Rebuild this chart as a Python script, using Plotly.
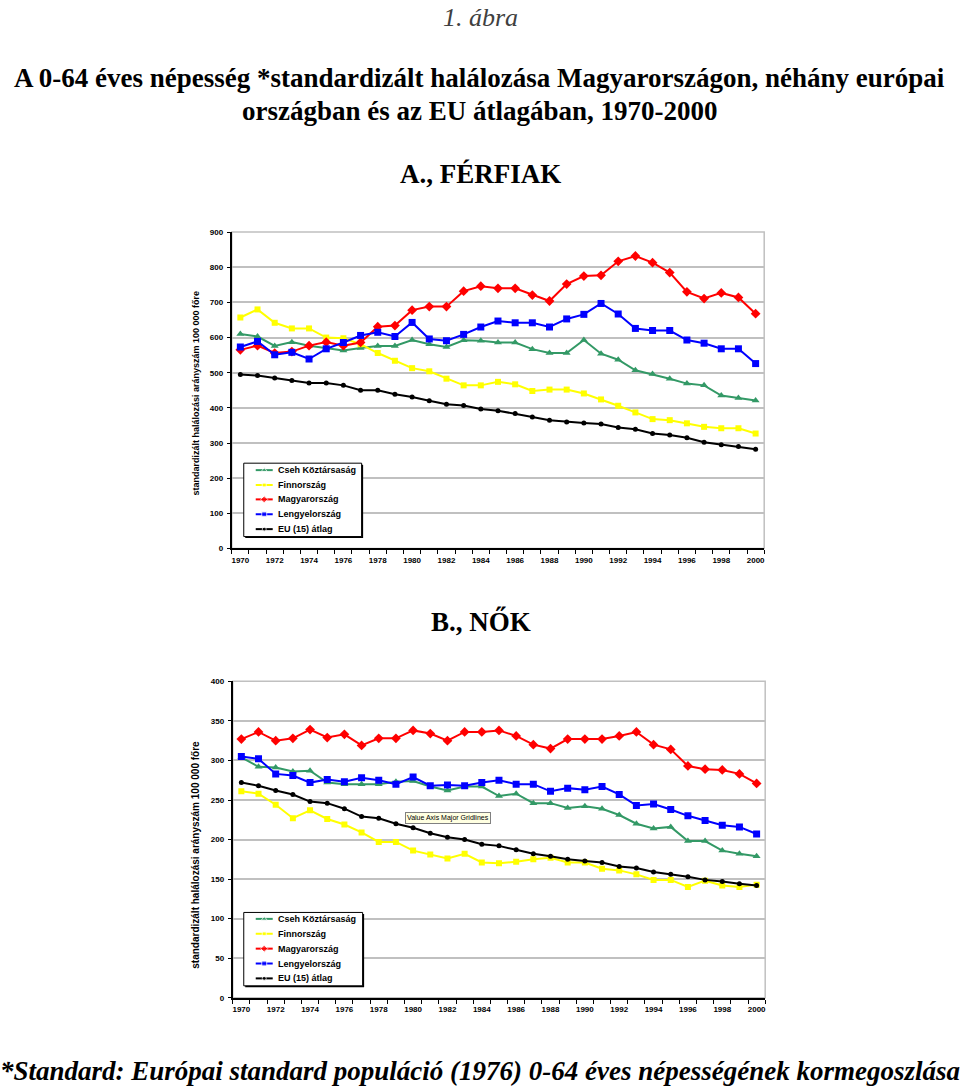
import plotly.graph_objects as go

W, H = 960, 1090

years = list(range(1970, 2001))
names = ["Cseh Köztársaság", "Finnország", "Magyarország", "Lengyelország", "EU (15) átlag"]

# A., FÉRFIAK
men_cz = [610, 603, 576, 587, 577, 570, 563, 570, 576, 576, 593, 581, 573, 592, 591,
          586, 586, 567, 556, 556, 593, 554, 537, 507, 496, 483, 469, 464, 435, 428, 421]
men_fi = [657, 680, 642, 626, 626, 600, 598, 581, 556, 534, 513, 504, 483, 464, 464,
          474, 467, 448, 452, 452, 441, 424, 406, 387, 368, 365, 356, 346, 342, 342, 327]
men_hu = [565, 577, 556, 560, 577, 587, 577, 586, 631, 634, 678, 688, 688, 732, 746,
          740, 740, 721, 704, 752, 775, 777, 817, 832, 813, 785, 730, 711, 727, 714, 668]
men_pl = [573, 589, 551, 558, 539, 568, 586, 606, 615, 603, 643, 596, 591, 609, 630,
          647, 642, 642, 630, 653, 666, 697, 667, 626, 620, 620, 593, 584, 568, 568, 526]
men_eu = [495, 492, 485, 478, 471, 471, 464, 450, 450, 439, 431, 420, 410, 407, 397,
          392, 384, 374, 365, 360, 357, 354, 344, 339, 327, 323, 315, 302, 295, 290, 282]

# B., NŐK
women_cz = [304, 292, 291, 286, 287, 272, 270, 270, 270, 273, 274, 267, 262, 267, 267,
            255, 258, 246, 246, 240, 242, 239, 231, 220, 214, 216, 198, 198, 186, 182, 179]
women_fi = [261, 258, 244, 227, 237, 226, 219, 209, 197, 197, 186, 181, 176, 182, 171,
            170, 172, 175, 177, 171, 171, 163, 161, 156, 149, 149, 140, 148, 142, 140, 143]
women_hu = [327, 336, 325, 328, 339, 329, 333, 319, 328, 328, 338, 334, 325, 336, 336,
            338, 331, 320, 315, 327, 327, 327, 331, 336, 320, 314, 293, 289, 288, 283, 271]
women_pl = [305, 302, 283, 281, 272, 276, 273, 278, 275, 270, 279, 268, 269, 268, 272,
            275, 270, 270, 261, 265, 263, 267, 257, 243, 245, 238, 230, 224, 218, 216, 207]
women_eu = [272, 268, 262, 257, 248, 246, 239, 229, 227, 220, 215, 208, 203, 200, 194,
            192, 187, 182, 179, 175, 173, 171, 166, 164, 159, 156, 153, 149, 147, 144, 142]

x_ticklabels = [str(y) for y in range(1970, 2001, 2)]
men_yticks = list(range(0, 901, 100))
women_yticks = list(range(0, 401, 50))

colors = ["#339966", "#FFFF00", "#FF0000", "#0000FF", "#000000"]
symbols = ["triangle-up", "square", "diamond", "square", "circle"]
msizes = [7, 6, 7.5, 7, 5]

ARIAL = "Liberation Sans"
SERIF = "Liberation Serif"

fig = go.Figure()

men = [men_cz, men_fi, men_hu, men_pl, men_eu]
women = [women_cz, women_fi, women_hu, women_pl, women_eu]

for i in range(5):
    fig.add_trace(go.Scatter(x=years, y=men[i], name=names[i], mode="lines+markers",
                             line=dict(color=colors[i], width=2),
                             marker=dict(symbol=symbols[i], size=msizes[i], color=colors[i]),
                             xaxis="x", yaxis="y", showlegend=False))
for i in range(5):
    fig.add_trace(go.Scatter(x=years, y=women[i], name=names[i], mode="lines+markers",
                             line=dict(color=colors[i], width=2),
                             marker=dict(symbol=symbols[i], size=msizes[i], color=colors[i]),
                             xaxis="x2", yaxis="y2", showlegend=False))

def px_x(p):
    return p / W

def px_y(p):
    return 1 - p / H

# plot areas (pixels)
top_box = (232, 765, 230, 549)
bot_box = (233, 766, 683, 1002)

tickfont = dict(family=ARIAL, size=8, color="#000", weight="bold")

def xaxis_cfg(box, anchor):
    return dict(domain=[px_x(box[0]), px_x(box[1])], anchor=anchor,
                range=[1969.5, 2000.5], tickmode="array",
                tickvals=list(range(1970, 2001, 2)), ticktext=x_ticklabels,
                ticks="", showgrid=False, zeroline=False,
                showline=True, linecolor="#000", linewidth=2,
                tickfont=tickfont, ticklabelstandoff=3,
                minor=dict(ticks="outside", tick0=1969.5, dtick=1, ticklen=4,
                           tickcolor="#000", tickwidth=1, showgrid=False))

def yaxis_cfg(box, anchor, rng, vals):
    return dict(domain=[px_y(box[3]), px_y(box[2])], anchor=anchor,
                range=rng, tickmode="array", tickvals=vals,
                ticks="outside", ticklen=3, tickcolor="#000", tickwidth=1,
                showgrid=True, gridcolor="#c0c0c0", gridwidth=1.5, zeroline=False,
                showline=True, linecolor="#000", linewidth=2,
                tickfont=tickfont, ticklabelstandoff=2)

shapes = []
for ax in ["", "2"]:
    shapes.append(dict(type="rect", xref=f"x{ax} domain", yref=f"y{ax} domain",
                       x0=0, x1=1, y0=0, y1=1, line=dict(color="#c0c0c0", width=1.5),
                       layer="below"))

# legends drawn in pixel coordinates on an overlay axis
legend_boxes = [
    dict(x0=244, x1=362, y0=463, y1=537, rows=[470, 485, 499.5, 514.5, 529.5]),
    dict(x0=244, x1=363, y0=916, y1=990, rows=[922.5, 937.5, 952.5, 967.5, 982.5]),
]
annotations = []
for lb in legend_boxes:
    shapes.append(dict(type="rect", xref="x3", yref="y3", x0=lb["x0"] + 1.5, x1=lb["x1"] + 1.5,
                       y0=lb["y0"] + 1.5, y1=lb["y1"] + 1.5, line=dict(width=0),
                       fillcolor="#000", layer="below"))
    shapes.append(dict(type="rect", xref="x3", yref="y3", x0=lb["x0"], x1=lb["x1"],
                       y0=lb["y0"], y1=lb["y1"], line=dict(color="#000", width=1),
                       fillcolor="#fff", layer="below"))
    for i, ry in enumerate(lb["rows"]):
        fig.add_trace(go.Scatter(x=[256, 264.5, 273], y=[ry, ry, ry], mode="lines+markers",
                                 line=dict(color=colors[i], width=2),
                                 marker=dict(symbol=symbols[i], color=colors[i],
                                             size=[0, max(msizes[i] - 2, 4), 0]),
                                 xaxis="x3", yaxis="y3", showlegend=False, hoverinfo="skip"))
        annotations.append(dict(x=276, y=ry, xref="x3", yref="y3", text=names[i],
                                showarrow=False, xanchor="left", yanchor="middle",
                                font=dict(family=ARIAL, size=9, color="#000", weight="bold")))

# y-axis titles
ytitle = "standardizált halálozási arányszám 100 000 főre"
annotations.append(dict(x=196, y=392, xref="x3", yref="y3", text=ytitle, textangle=-90,
                        showarrow=False, xanchor="center", yanchor="middle",
                        font=dict(family=ARIAL, size=9, color="#000", weight="bold")))
annotations.append(dict(x=196, y=858, xref="x3", yref="y3", text=ytitle, textangle=-90,
                        showarrow=False, xanchor="center", yanchor="middle",
                        font=dict(family=ARIAL, size=10, color="#000", weight="bold")))

# tooltip artifact
annotations.append(dict(x=448, y=821, xref="x3", yref="y3", text="Value Axis Major Gridlines",
                        showarrow=False, xanchor="center", yanchor="middle",
                        bgcolor="#ffffe1", bordercolor="#808080", borderwidth=1, borderpad=1,
                        font=dict(family=ARIAL, size=7, color="#000")))

# page texts
annotations.append(dict(x=481, y=14, xref="x3", yref="y3", text="<i>1. ábra</i>",
                        showarrow=False, xanchor="center", yanchor="middle",
                        font=dict(family=SERIF, size=26, color="#404040")))
annotations.append(dict(x=480, y=75, xref="x3", yref="y3",
                        text="<b>A 0-64 éves népesség *standardizált halálozása Magyarországon, néhány európai</b>",
                        showarrow=False, xanchor="center", yanchor="middle",
                        font=dict(family=SERIF, size=27, color="#000")))
annotations.append(dict(x=480, y=108, xref="x3", yref="y3",
                        text="<b>országban és az EU átlagában, 1970-2000</b>",
                        showarrow=False, xanchor="center", yanchor="middle",
                        font=dict(family=SERIF, size=27, color="#000")))
annotations.append(dict(x=481, y=171, xref="x3", yref="y3", text="<b>A., FÉRFIAK</b>",
                        showarrow=False, xanchor="center", yanchor="middle",
                        font=dict(family=SERIF, size=27, color="#000")))
annotations.append(dict(x=481, y=623, xref="x3", yref="y3", text="<b>B., NŐK</b>",
                        showarrow=False, xanchor="center", yanchor="middle",
                        font=dict(family=SERIF, size=27, color="#000")))
annotations.append(dict(x=480, y=1076, xref="x3", yref="y3",
                        text="<b><i>*Standard: Európai standard populáció (1976) 0-64 éves népességének kormegoszlása</i></b>",
                        showarrow=False, xanchor="center", yanchor="middle",
                        font=dict(family=SERIF, size=27, color="#000")))

fig.update_layout(
    width=W, height=H, margin=dict(l=0, r=0, t=0, b=0),
    paper_bgcolor="#fff", plot_bgcolor="rgba(0,0,0,0)",
    xaxis=xaxis_cfg(top_box, "y"),
    yaxis=yaxis_cfg(top_box, "x", [0, 900], men_yticks),
    xaxis2=xaxis_cfg(bot_box, "y2"),
    yaxis2=yaxis_cfg(bot_box, "x2", [0, 400], women_yticks),
    xaxis3=dict(domain=[0, 1], anchor="y3", range=[0, W], visible=False, fixedrange=True),
    yaxis3=dict(domain=[0, 1], anchor="x3", range=[H, 0], visible=False, fixedrange=True),
    shapes=shapes, annotations=annotations, showlegend=False,
)

fig.write_html("out.html", config={"displayModeBar": False},
               post_script="document.body.style.margin='0px';document.body.style.overflow='hidden';")
